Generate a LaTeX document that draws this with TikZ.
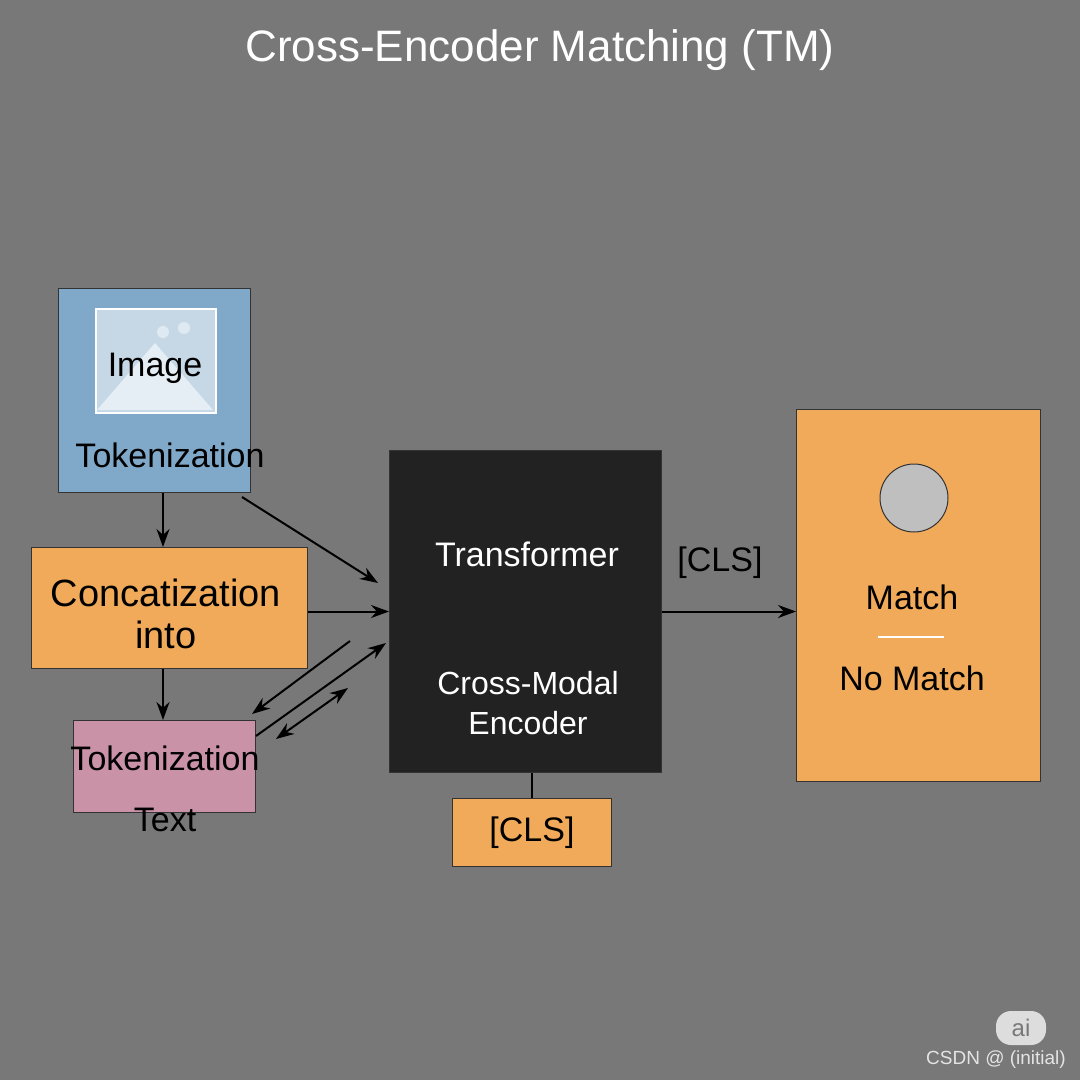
\documentclass[tikz,border=0pt]{standalone}
\usepackage{fontspec}
\setmainfont{Liberation Sans}
\usetikzlibrary{arrows.meta}
\definecolor{bggray}{HTML}{787878}
\definecolor{imgblue}{HTML}{80A8C8}
\definecolor{boxorange}{HTML}{F0AA5A}
\definecolor{txtpink}{HTML}{C992A6}
\definecolor{encblack}{HTML}{222222}
\tikzstyle{box}=[draw=black!80, line width=1pt, inner sep=0pt, anchor=north west]
\tikzstyle{arrow}=[-{Stealth[length=18pt,width=13pt]}, line width=2pt]
\tikzstyle{lbl}=[font=\fontsize{34}{40}\selectfont, align=center, inner sep=0pt]
\begin{document}
\begin{tikzpicture}[x=1pt, y=-1pt]
\useasboundingbox[fill=bggray] (0,0) rectangle (1080,1080);

% Title
\node[lbl, text=white, font=\fontsize{44}{50}\selectfont] (title) at (540,50) {Cross-Encoder Matching (TM)};

% Image tokenization
\node[box, fill=imgblue, minimum width=192pt, minimum height=204pt] (img) at (58,288) {};
\node[box, draw=white, line width=2pt, fill=white!55!imgblue, minimum width=120pt, minimum height=104pt] (pic) at (95,308) {};
\fill[white!80!imgblue] (97,410) -- (155,343) -- (213,410) -- cycle;
\fill[white!75!imgblue] (163,332) circle (6) (184,328) circle (6);
\node[lbl] at (155,368) {Image};
\node[lbl] at (170,455) {Tokenization};

% Concatenation
\node[box, fill=boxorange, minimum width=276pt, minimum height=121pt] (concat) at (31,547) {};
\node[lbl, font=\fontsize{38}{42}\selectfont] at (166,614) {Concatization\\into};

% Text tokenization
\node[box, fill=txtpink, minimum width=182pt, minimum height=92pt] (text) at (73,720) {};
\node[lbl] at (165,758) {Tokenization};
\node[lbl] at (165,820) {Text};

% Encoder
\node[box, fill=encblack, minimum width=272pt, minimum height=322pt] (enc) at (389,450) {};
\node[lbl, text=white] at (527,554) {Transformer};
\node[lbl, text=white, font=\fontsize{32}{40}\selectfont] at (528,703) {Cross-Modal\\Encoder};
\node[box, fill=boxorange, minimum width=159pt, minimum height=68pt] (cls) at (452,798) {};
\node[lbl] at (cls.center) {[CLS]};

% Match output
\node[box, fill=boxorange, minimum width=244pt, minimum height=372pt] (match) at (796,409) {};
\node[draw=black!80, line width=1pt, fill=black!25, circle, minimum size=68pt] (dot) at (914,498) {};
\node[lbl] at (912,597) {Match};
\draw[white, line width=2pt] (878,637) -- (944,637);
\node[lbl] at (912,678) {No Match};

% Flow arrows
\coordinate (a1) at (242,497);
\coordinate (a2) at (378,583);
\coordinate (b1) at (350,641);
\coordinate (b2) at (252,714);
\coordinate (c1) at (256,736);
\coordinate (c2) at (386,643);
\coordinate (d1) at (276,739);
\coordinate (d2) at (348,688);
\draw[arrow] (img.south -| 163,0) -- (concat.north -| 163,0);
\draw[arrow] (concat.south -| 163,0) -- (text.north -| 163,0);
\draw[arrow] (a1) -- (a2);
\draw[arrow] (concat.east |- enc.west) -- (enc.west);
\draw[arrow] (b1) -- (b2);
\draw[arrow] (c1) -- (c2);
\draw[arrow, {Stealth[length=18pt,width=13pt]}-{Stealth[length=18pt,width=13pt]}] (d1) -- (d2);
\draw[arrow] (enc.east) -- (enc.east -| match.west);
\node[lbl] (clslbl) at (720,563) {[CLS]};
\draw[line width=1.5pt] (cls.north |- enc.south) -- (cls.north);

% Watermark
\node[fill=white!75!bggray, rounded corners=15pt, minimum width=50pt, minimum height=34pt, text=bggray, font=\fontsize{24}{24}\selectfont] (ai) at (1021,1028) {ai};
\node[text=white!80!bggray, font=\fontsize{19}{20}\selectfont, anchor=east, inner sep=0pt] (wm) at (1066,1060) {CSDN @ (initial)};
\end{tikzpicture}
\end{document}
